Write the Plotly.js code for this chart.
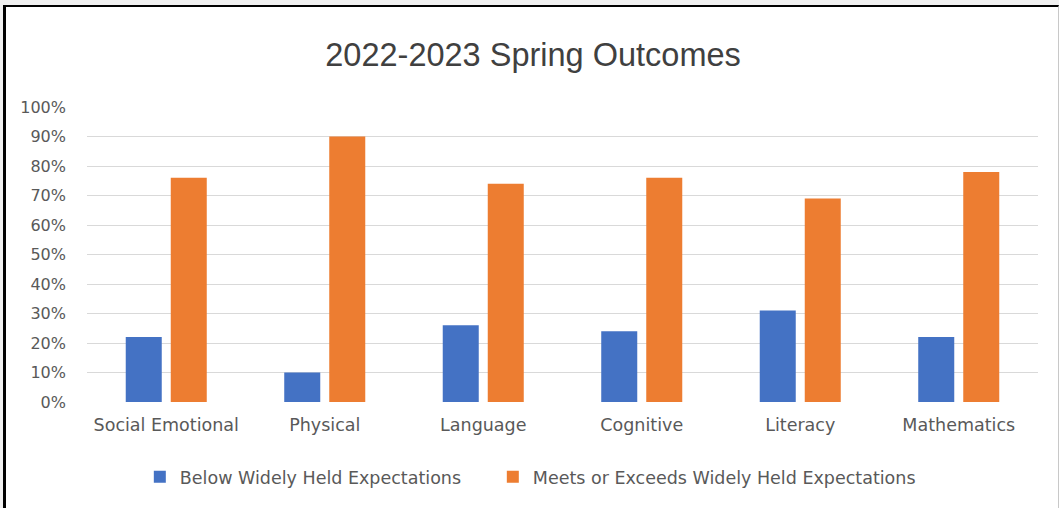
<!DOCTYPE html>
<html>
<head>
<meta charset="utf-8">
<script src="https://cdn.plot.ly/plotly-3.0.1.min.js"></script>
<style>
  html, body { margin: 0; padding: 0; background: #f0f0f0; width: 1059px; height: 508px; overflow: hidden; }
  #frame { position: absolute; left: 3px; top: 5px; width: 1056px; height: 503px; box-sizing: border-box;
           border-top: 2px solid #000; border-left: 3px solid #000; border-right: 1px solid #c8c8c8; background: #fff; }
  #chart { width: 1052px; height: 501px; }
</style>
</head>
<body>
<div id="frame"><div id="chart"></div></div>
<script>
const categories = ["Social Emotional", "Physical", "Language", "Cognitive", "Literacy", "Mathematics"];
const belowValues = [0.22, 0.10, 0.26, 0.24, 0.31, 0.22];
const meetsValues = [0.76, 0.90, 0.74, 0.76, 0.69, 0.78];
const seriesNames = ["Below Widely Held Expectations", "Meets or Exceeds Widely Held Expectations"];
const titleText = "2022-2023 Spring Outcomes";
const yTickVals = [0, 0.1, 0.2, 0.3, 0.4, 0.5, 0.6, 0.7, 0.8, 0.9, 1.0];
const yTickText = ["0%", "10%", "20%", "30%", "40%", "50%", "60%", "70%", "80%", "90%", "100%"];

const labelFont = { family: "DejaVu Sans, sans-serif", size: 17.5, color: "#595959" };
const yFont = { family: "DejaVu Sans, sans-serif", size: 16, color: "#595959" };

const traces = [
  { type: "bar", name: seriesNames[0], x: categories, y: belowValues, marker: { color: "#4472C4" }, hoverinfo: "x+y", legendwidth: 308 },
  { type: "bar", name: seriesNames[1], x: categories, y: meetsValues, marker: { color: "#ED7D31" }, hoverinfo: "x+y" }
];

const layout = {
  width: 1052, height: 501,
  margin: { l: 81, r: 20, t: 100, b: 106 },
  paper_bgcolor: "#ffffff", plot_bgcolor: "#ffffff",
  barmode: "group", bargap: 0.432, bargroupgap: 0.2,
  title: { text: titleText, font: { family: "Liberation Sans, Arial, sans-serif", size: 32.5, color: "#404040" },
           xref: "container", x: 0.501, xanchor: "center", yref: "container", y: 0.904, yanchor: "middle" },
  xaxis: { tickfont: labelFont, showgrid: false, zeroline: false, showline: false, ticks: "", ticklabelstandoff: 10 },
  yaxis: { range: [0, 1], tickvals: yTickVals, ticktext: yTickText, tickfont: yFont,
           showgrid: true, gridcolor: "#d9d9d9", gridwidth: 1, zeroline: false, showline: false, ticks: "",
           ticklabelstandoff: 20 },
  legend: { orientation: "h", xref: "container", x: 0.4984, xanchor: "center", yref: "container", y: 0.062, yanchor: "middle",
            font: labelFont, itemwidth: 30, traceorder: "normal" },
  showlegend: true
};

Plotly.newPlot("chart", traces, layout, { displayModeBar: false, staticPlot: true });
</script>
</body>
</html>
